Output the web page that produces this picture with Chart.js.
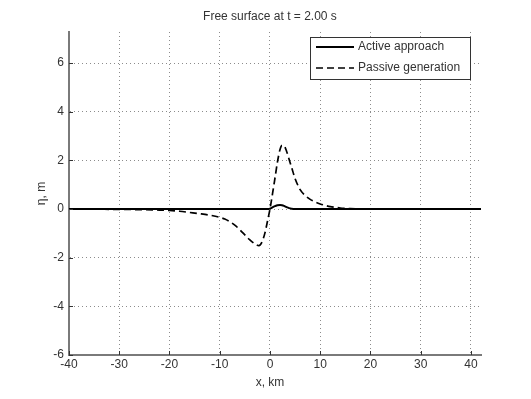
<!DOCTYPE html>
<html lang="en">
<head>
<meta charset="UTF-8">
<title>Free surface at t = 2.00 s</title>
<script src="https://cdn.jsdelivr.net/npm/chart.js@4.4.1/dist/chart.umd.js"></script>
<style>
  html, body { margin: 0; padding: 0; background: #fff; }
  #wrap { width: 531px; height: 399px; position: relative; }
</style>
</head>
<body>
<div id="wrap"><canvas id="chart"></canvas></div>
<script>
// x positions, km
const xKm = [-40, -35, -30, -25, -22, -20, -18, -16, -14, -12,
             -10, -9, -8, -7, -6, -5, -4, -3, -2.2, -1.6,
             -1, -0.5, 0, 0.5, 1, 1.5, 2, 2.4, 2.8, 3.3,
             3.8, 4.3, 5, 6, 7, 8, 9, 10, 11, 12,
             13, 14, 15, 16, 18, 20, 25, 30, 35, 42];

// free surface elevation, m
const passive = [0, -0.005, -0.012, -0.025, -0.04, -0.06, -0.09, -0.14, -0.19, -0.25,
                 -0.34, -0.41, -0.52, -0.66, -0.85, -1.06, -1.27, -1.43, -1.5, -1.36,
                 -0.98, -0.5, 0, 0.62, 1.28, 1.95, 2.45, 2.62, 2.6, 2.38,
                 2.05, 1.72, 1.25, 0.8, 0.56, 0.4, 0.29, 0.21, 0.15, 0.1,
                 0.07, 0.045, 0.03, 0.018, 0.007, 0.002, 0, 0, 0, 0];

const active = [0, 0, 0, 0, 0, 0, 0, 0, 0, 0,
                0, 0, 0, 0, 0, 0, 0, 0, 0, 0,
                0, 0, 0.02, 0.07, 0.12, 0.16, 0.17, 0.16, 0.13, 0.08,
                0.04, 0.015, 0, 0, 0, 0, 0, 0, 0, 0,
                0, 0, 0, 0, 0, 0, 0, 0, 0, 0];

const xTicks = [-40, -30, -20, -10, 0, 10, 20, 30, 40];
const yTicks = [-6, -4, -2, 0, 2, 4, 6];

const seriesNames = ['Active approach', 'Passive generation'];
const titleText = 'Free surface at t = 2.00 s';

const FONT = '"Liberation Sans", Arial, sans-serif';
const TEXT = '#333';

function pts(ys) {
    return xKm.map((x, i) => ({ x: x, y: ys[i] }));
}

// title, axis labels, inward ticks and the boxed legend, MATLAB style
const decorPlugin = {
    id: 'decor',
    afterDraw(chart) {
        const ctx = chart.ctx;
        const xs = chart.scales.x, ys = chart.scales.y;
        const area = chart.chartArea;
        ctx.save();

        // inward tick marks
        ctx.strokeStyle = '#333';
        ctx.lineWidth = 1;
        ctx.beginPath();
        xTicks.forEach(v => {
            const px = Math.round(xs.getPixelForValue(v)) + 0.5;
            ctx.moveTo(px, area.bottom);
            ctx.lineTo(px, area.bottom - 4);
        });
        yTicks.forEach(v => {
            const py = Math.round(ys.getPixelForValue(v)) + 0.5;
            ctx.moveTo(area.left, py);
            ctx.lineTo(area.left + 4, py);
        });
        ctx.stroke();

        // texts
        ctx.fillStyle = TEXT;
        ctx.font = '12px ' + FONT;
        ctx.textAlign = 'center';
        ctx.textBaseline = 'middle';
        const cx = xs.getPixelForValue(0);
        ctx.fillText(titleText, cx, 17);
        ctx.fillText('x, km', cx, 383);

        ctx.save();
        ctx.translate(42, (area.top + area.bottom) / 2);
        ctx.rotate(-Math.PI / 2);
        ctx.fillText('\u03B7, m', 0, 0);
        ctx.restore();

        // legend
        const lx = 310, ly = 37, lw = 160, lh = 42;
        ctx.fillStyle = '#fff';
        ctx.fillRect(lx, ly, lw, lh);
        ctx.strokeStyle = '#333';
        ctx.lineWidth = 1;
        ctx.strokeRect(lx + 0.5, ly + 0.5, lw, lh);

        const rows = [
            { y: ly + 10, dash: [], width: 2 },
            { y: ly + 31, dash: [7, 4], width: 1.7 }
        ];
        rows.forEach((r, i) => {
            ctx.beginPath();
            ctx.setLineDash(r.dash);
            ctx.lineWidth = r.width;
            ctx.strokeStyle = '#000';
            ctx.moveTo(lx + 6, r.y);
            ctx.lineTo(lx + 44, r.y);
            ctx.stroke();
            ctx.setLineDash([]);
            ctx.fillStyle = TEXT;
            ctx.textAlign = 'left';
            ctx.fillText(seriesNames[i], lx + 48, r.y);
        });

        ctx.restore();
    }
};

const ctx = document.getElementById('chart').getContext('2d');
new Chart(ctx, {
    type: 'line',
    data: {
        datasets: [
            {
                label: seriesNames[0],
                data: pts(active),
                borderColor: '#000',
                borderWidth: 2,
                pointRadius: 0,
                cubicInterpolationMode: 'monotone',
                fill: false
            },
            {
                label: seriesNames[1],
                data: pts(passive),
                borderColor: '#000',
                borderWidth: 1.7,
                borderDash: [7, 4],
                pointRadius: 0,
                cubicInterpolationMode: 'monotone',
                fill: false
            }
        ]
    },
    options: {
        responsive: true,
        maintainAspectRatio: false,
        animation: false,
        devicePixelRatio: 1,
        layout: { padding: { left: 0, right: 50, top: 32, bottom: 0 } },
        plugins: {
            legend: { display: false },
            title: { display: false },
            tooltip: { enabled: false }
        },
        scales: {
            x: {
                type: 'linear',
                min: -40,
                max: 42,
                afterBuildTicks: s => { s.ticks = xTicks.map(v => ({ value: v })); },
                afterFit: s => { s.height = 44; },
                ticks: {
                    color: TEXT,
                    font: { family: FONT, size: 12 },
                    padding: 2,
                    maxRotation: 0,
                    autoSkip: false
                },
                grid: { color: '#8c8c8c', lineWidth: 1, drawTicks: false },
                border: { color: '#7a7a7a', width: 2, dash: [1, 3] }
            },
            y: {
                type: 'linear',
                min: -6,
                max: 7.28,
                afterBuildTicks: s => { s.ticks = yTicks.map(v => ({ value: v })); },
                afterFit: s => { s.width = 69; },
                ticks: {
                    color: TEXT,
                    font: { family: FONT, size: 12 },
                    padding: 5
                },
                grid: { color: '#8c8c8c', lineWidth: 1, drawTicks: false },
                border: { color: '#7a7a7a', width: 2, dash: [1, 3] }
            }
        }
    },
    plugins: [decorPlugin]
});
</script>
</body>
</html>
